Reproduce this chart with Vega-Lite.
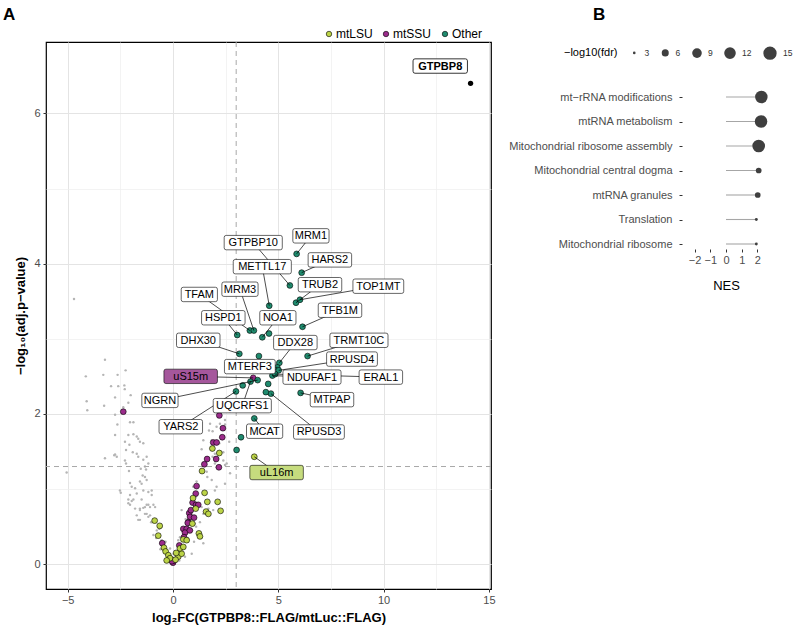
{
  "$schema": "https://vega.github.io/schema/vega-lite/v6.json",
  "padding": {"left": 2, "top": 4, "right": 5, "bottom": 5},
  "background": "white",
  "spacing": 12,
  "config": {
    "font": "Liberation Sans",
    "view": {"stroke": null},
    "axis": {"labelFontSize": 11, "labelColor": "#4d4d4d", "tickColor": "#333333", "tickSize": 3, "domain": false, "titleColor": "black", "labelFont": "Liberation Sans", "titleFont": "Liberation Sans"},
    "legend": {"labelFont": "Liberation Sans", "titleFont": "Liberation Sans"},
    "title": {"font": "Liberation Sans"}
  },
  "datasets": {
    "grey": [
      {"x": -4.70, "y": 3.53}, {"x": -3.23, "y": 2.72}, {"x": -4.14, "y": 2.50}, {"x": -3.31, "y": 2.52}, {"x": -2.63, "y": 2.52}, {"x": -2.25, "y": 2.58}, {"x": -2.94, "y": 2.37}, {"x": -2.60, "y": 2.37}, {"x": -2.31, "y": 2.38}, {"x": -2.29, "y": 2.33}, {"x": -2.01, "y": 2.25}, {"x": -2.75, "y": 2.22}, {"x": -4.10, "y": 2.17}, {"x": -3.27, "y": 2.11}, {"x": -2.12, "y": 2.15}, {"x": -4.07, "y": 2.05}, {"x": -2.36, "y": 2.09}, {"x": -2.75, "y": 1.99},
      {"x": -2.64, "y": 1.86}, {"x": -2.04, "y": 1.89}, {"x": -1.88, "y": 1.89}, {"x": -2.75, "y": 1.72}, {"x": -2.28, "y": 1.63}, {"x": -2.12, "y": 1.72}, {"x": -1.88, "y": 1.73}, {"x": -1.72, "y": 1.70}, {"x": -1.65, "y": 1.67}, {"x": -1.57, "y": 1.63}, {"x": -1.41, "y": 1.61}, {"x": -2.07, "y": 1.59}, {"x": -2.23, "y": 1.52}, {"x": -1.91, "y": 1.49}, {"x": -2.75, "y": 1.46}, {"x": -2.67, "y": 1.43}, {"x": -3.23, "y": 1.41}, {"x": -2.28, "y": 1.38}, {"x": -1.72, "y": 1.47}, {"x": -1.65, "y": 1.43}, {"x": -2.23, "y": 1.34}, {"x": -1.17, "y": 1.34}, {"x": -1.28, "y": 1.26}, {"x": -2.09, "y": 1.24}, {"x": -1.53, "y": 1.27}, {"x": -1.44, "y": 1.18}, {"x": -1.33, "y": 1.16}, {"x": -1.25, "y": 1.12}, {"x": -1.57, "y": 1.10}, {"x": -1.49, "y": 1.07}, {"x": -2.04, "y": 1.08}, {"x": -1.96, "y": 1.03}, {"x": -1.80, "y": 1.01}, {"x": -1.72, "y": 0.94}, {"x": -2.48, "y": 0.95}, {"x": -1.41, "y": 0.98}, {"x": -1.17, "y": 0.96}, {"x": -1.01, "y": 0.98}, {"x": -2.12, "y": 0.86}, {"x": -1.96, "y": 0.84}, {"x": -2.04, "y": 0.79}, {"x": -1.25, "y": 0.79}, {"x": -1.09, "y": 0.76}, {"x": -0.93, "y": 0.79}, {"x": -0.85, "y": 0.76}, {"x": -1.57, "y": 0.74}, {"x": -1.41, "y": 0.75},
      {"x": -5.05, "y": 1.22}, {"x": -2.79, "y": 1.45}, {"x": -2.52, "y": 0.98}, {"x": -1.57, "y": 0.59}, {"x": -1.25, "y": 0.67}, {"x": -1.09, "y": 0.65}, {"x": -1.04, "y": 0.56}, {"x": -1.41, "y": 1.39}, {"x": -1.25, "y": 1.43}, {"x": -1.33, "y": 1.30},
      {"x": 1.36, "y": 1.53}, {"x": 2.39, "y": 1.49}, {"x": 2.71, "y": 2.03}, {"x": 2.47, "y": 1.92}, {"x": 2.15, "y": 2.03}, {"x": 2.55, "y": 1.34}, {"x": 2.71, "y": 1.21}, {"x": 1.36, "y": 0.76}, {"x": 1.44, "y": 0.67},
      {"x": 2.23, "y": 1.87}, {"x": 2.47, "y": 1.86}, {"x": 1.88, "y": 1.77}, {"x": 2.20, "y": 1.61}, {"x": 2.67, "y": 1.63}, {"x": 1.88, "y": 1.43}, {"x": 1.99, "y": 1.34}, {"x": 2.07, "y": 1.29}, {"x": 2.47, "y": 1.32}, {"x": 1.63, "y": 1.16}, {"x": 1.12, "y": 1.10}, {"x": 0.96, "y": 1.03}, {"x": 1.99, "y": 0.98}, {"x": 1.09, "y": 0.90},
      {"x": 1.76, "y": 1.87}, {"x": 1.71, "y": 1.78}, {"x": 2.07, "y": 1.83}, {"x": 1.84, "y": 1.65}, {"x": 1.44, "y": 1.65}, {"x": 2.28, "y": 1.69}, {"x": 1.99, "y": 1.47}, {"x": 2.39, "y": 1.38}, {"x": 1.60, "y": 1.23}, {"x": 1.84, "y": 1.12}, {"x": 2.07, "y": 1.03}, {"x": 2.47, "y": 1.07},
      {"x": -1.88, "y": 0.86}, {"x": -1.49, "y": 0.86}, {"x": -2.04, "y": 0.92}, {"x": -2.12, "y": 0.81}, {"x": -1.80, "y": 0.74}, {"x": -1.57, "y": 0.72}, {"x": -1.33, "y": 0.76}, {"x": -1.17, "y": 0.79}, {"x": -1.01, "y": 0.92}, {"x": -1.72, "y": 0.65}, {"x": -1.65, "y": 0.59}, {"x": -1.33, "y": 0.67}, {"x": -1.17, "y": 0.63}, {"x": -1.01, "y": 0.56}, {"x": -0.77, "y": 0.45}, {"x": -0.65, "y": 0.47}, {"x": -0.93, "y": 0.39}, {"x": -0.54, "y": 0.32}, {"x": -0.46, "y": 0.25}, {"x": -0.14, "y": 0.21}, {"x": 0.02, "y": 0.14}, {"x": 0.25, "y": 0.32}, {"x": 0.33, "y": 0.36}, {"x": 1.68, "y": 0.74}, {"x": 1.91, "y": 0.72}, {"x": 1.36, "y": 0.36}, {"x": 1.44, "y": 0.28}, {"x": 0.89, "y": 0.14}, {"x": 0.57, "y": 0.10}, {"x": -0.30, "y": 0.12}, {"x": 0.73, "y": 0.63}, {"x": 0.81, "y": 0.56}, {"x": 1.04, "y": 0.54}, {"x": 0.41, "y": 0.72}, {"x": 1.28, "y": 0.56},
      {"x": -0.20, "y": 0.05}, {"x": 0.10, "y": 0.03}, {"x": 0.20, "y": 0.08}, {"x": -0.10, "y": 0.10}, {"x": 0.45, "y": 0.20}, {"x": 0.70, "y": 0.35}, {"x": 0.90, "y": 0.45}, {"x": -0.60, "y": 0.20}, {"x": -0.80, "y": 0.35}, {"x": -0.35, "y": 0.30}, {"x": 0.60, "y": 0.60}, {"x": 1.10, "y": 0.50}, {"x": 1.00, "y": 0.30}, {"x": 0.30, "y": 0.05}
    ],
    "colored": [
      {"x": -2.36, "y": 2.03, "group": "mtSSU"}, {"x": 3.81, "y": 2.48, "group": "mtSSU"}, {"x": 2.20, "y": 1.98, "group": "mtSSU"}, {"x": 2.37, "y": 1.81, "group": "mtSSU"}, {"x": 2.34, "y": 1.69, "group": "mtSSU"}, {"x": 1.91, "y": 1.62, "group": "mtSSU"}, {"x": 2.07, "y": 1.62, "group": "mtSSU"}, {"x": 1.62, "y": 1.40, "group": "mtSSU"}, {"x": 2.05, "y": 1.40, "group": "mtSSU"}, {"x": 1.49, "y": 1.33, "group": "mtSSU"}, {"x": 2.18, "y": 1.29, "group": "mtSSU"}, {"x": 1.12, "y": 1.04, "group": "mtSSU"}, {"x": 1.08, "y": 0.94, "group": "mtSSU"}, {"x": 0.93, "y": 0.82, "group": "mtSSU"}, {"x": 1.09, "y": 0.79, "group": "mtSSU"}, {"x": 1.20, "y": 0.79, "group": "mtSSU"}, {"x": 0.77, "y": 0.68, "group": "mtSSU"}, {"x": 0.81, "y": 0.63, "group": "mtSSU"}, {"x": 1.00, "y": 0.62, "group": "mtSSU"}, {"x": 0.73, "y": 0.56, "group": "mtSSU"}, {"x": 0.49, "y": 0.47, "group": "mtSSU"}, {"x": 0.65, "y": 0.47, "group": "mtSSU"}, {"x": 0.57, "y": 0.42, "group": "mtSSU"}, {"x": 0.52, "y": 0.36, "group": "mtSSU"}, {"x": 0.80, "y": 0.45, "group": "mtSSU"}, {"x": 0.70, "y": 0.55, "group": "mtSSU"}, {"x": -0.51, "y": 0.28, "group": "mtSSU"}, {"x": 0.0, "y": 0.02, "group": "mtSSU"}, {"x": 0.05, "y": 0.05, "group": "mtSSU"}, {"x": -0.05, "y": 0.04, "group": "mtSSU"}, {"x": 0.30, "y": 0.25, "group": "mtSSU"}, {"x": 0.85, "y": 0.72, "group": "mtSSU"},
      {"x": 3.86, "y": 1.43, "group": "mtLSU"}, {"x": 1.87, "y": 1.54, "group": "mtLSU"}, {"x": 2.20, "y": 1.48, "group": "mtLSU"}, {"x": 1.38, "y": 1.24, "group": "mtLSU"}, {"x": 1.50, "y": 0.95, "group": "mtLSU"}, {"x": 1.63, "y": 0.83, "group": "mtLSU"}, {"x": 2.12, "y": 0.83, "group": "mtLSU"}, {"x": 2.26, "y": 0.71, "group": "mtLSU"}, {"x": 1.08, "y": 0.74, "group": "mtLSU"}, {"x": 0.92, "y": 0.54, "group": "mtLSU"}, {"x": 1.23, "y": 0.41, "group": "mtLSU"}, {"x": 1.28, "y": 0.37, "group": "mtLSU"}, {"x": 0.49, "y": 0.33, "group": "mtLSU"}, {"x": 0.65, "y": 0.32, "group": "mtLSU"}, {"x": -0.87, "y": 0.58, "group": "mtLSU"}, {"x": -0.63, "y": 0.51, "group": "mtLSU"}, {"x": -0.70, "y": 0.38, "group": "mtLSU"}, {"x": -0.43, "y": 0.22, "group": "mtLSU"}, {"x": -0.35, "y": 0.17, "group": "mtLSU"}, {"x": -0.22, "y": 0.12, "group": "mtLSU"}, {"x": -0.14, "y": 0.08, "group": "mtLSU"}, {"x": 0.25, "y": 0.10, "group": "mtLSU"}, {"x": 0.41, "y": 0.14, "group": "mtLSU"}, {"x": 0.33, "y": 0.21, "group": "mtLSU"}, {"x": 0.49, "y": 0.23, "group": "mtLSU"}, {"x": 1.57, "y": 0.70, "group": "mtLSU"}, {"x": 1.68, "y": 0.67, "group": "mtLSU"}, {"x": 0.95, "y": 0.88, "group": "mtLSU"}, {"x": -0.30, "y": 0.05, "group": "mtLSU"}, {"x": 0.12, "y": 0.06, "group": "mtLSU"}, {"x": 0.15, "y": 0.15, "group": "mtLSU"},
      {"x": 5.87, "y": 4.13, "group": "Other"}, {"x": 6.11, "y": 3.88, "group": "Other"}, {"x": 5.55, "y": 3.71, "group": "Other"}, {"x": 4.57, "y": 3.44, "group": "Other"}, {"x": 5.84, "y": 3.48, "group": "Other"}, {"x": 6.03, "y": 3.52, "group": "Other"}, {"x": 6.15, "y": 3.16, "group": "Other"}, {"x": 3.65, "y": 3.11, "group": "Other"}, {"x": 3.84, "y": 3.11, "group": "Other"}, {"x": 3.05, "y": 3.05, "group": "Other"}, {"x": 4.24, "y": 3.02, "group": "Other"}, {"x": 4.56, "y": 3.07, "group": "Other"}, {"x": 3.15, "y": 2.80, "group": "Other"}, {"x": 4.08, "y": 2.77, "group": "Other"}, {"x": 5.05, "y": 2.68, "group": "Other"}, {"x": 6.39, "y": 2.77, "group": "Other"}, {"x": 4.95, "y": 2.62, "group": "Other"}, {"x": 5.02, "y": 2.58, "group": "Other"}, {"x": 4.72, "y": 2.51, "group": "Other"}, {"x": 4.85, "y": 2.53, "group": "Other"}, {"x": 4.02, "y": 2.45, "group": "Other"}, {"x": 3.31, "y": 2.38, "group": "Other"}, {"x": 3.68, "y": 2.43, "group": "Other"}, {"x": 2.99, "y": 2.30, "group": "Other"}, {"x": 4.52, "y": 2.40, "group": "Other"}, {"x": 4.65, "y": 2.27, "group": "Other"}, {"x": 4.41, "y": 2.29, "group": "Other"}, {"x": 6.06, "y": 2.28, "group": "Other"}, {"x": 3.86, "y": 1.94, "group": "Other"}, {"x": 3.23, "y": 1.69, "group": "Other"}, {"x": 3.02, "y": 1.52, "group": "Other"}
    ],
    "labels": [
      {"gene": "MRM1", "x": 5.87, "y": 4.13, "lx": 6.55, "ly": 4.37, "group": "Other"},
      {"gene": "GTPBP10", "x": 5.55, "y": 3.71, "lx": 3.81, "ly": 4.28, "group": "Other"},
      {"gene": "HARS2", "x": 6.11, "y": 3.88, "lx": 7.45, "ly": 4.05, "group": "Other"},
      {"gene": "METTL17", "x": 4.57, "y": 3.44, "lx": 4.24, "ly": 3.96, "group": "Other"},
      {"gene": "TRUB2", "x": 5.84, "y": 3.48, "lx": 6.98, "ly": 3.72, "group": "Other"},
      {"gene": "TOP1MT", "x": 6.03, "y": 3.52, "lx": 9.75, "ly": 3.70, "group": "Other"},
      {"gene": "TFAM", "x": 3.65, "y": 3.11, "lx": 1.25, "ly": 3.59, "group": "Other"},
      {"gene": "MRM3", "x": 3.84, "y": 3.11, "lx": 3.18, "ly": 3.66, "group": "Other"},
      {"gene": "TFB1M", "x": 6.15, "y": 3.16, "lx": 7.93, "ly": 3.38, "group": "Other"},
      {"gene": "HSPD1", "x": 3.05, "y": 3.05, "lx": 2.39, "ly": 3.28, "group": "Other"},
      {"gene": "NOA1", "x": 4.24, "y": 3.02, "lx": 4.98, "ly": 3.28, "group": "Other"},
      {"gene": "DHX30", "x": 3.15, "y": 2.80, "lx": 1.20, "ly": 2.98, "group": "Other"},
      {"gene": "DDX28", "x": 5.05, "y": 2.68, "lx": 5.81, "ly": 2.95, "group": "Other"},
      {"gene": "TRMT10C", "x": 6.39, "y": 2.77, "lx": 8.83, "ly": 2.98, "group": "Other"},
      {"gene": "MTERF3", "x": 4.95, "y": 2.62, "lx": 3.65, "ly": 2.63, "group": "Other"},
      {"gene": "RPUSD4", "x": 5.02, "y": 2.58, "lx": 8.50, "ly": 2.73, "group": "Other"},
      {"gene": "NDUFAF1", "x": 4.72, "y": 2.51, "lx": 6.60, "ly": 2.49, "group": "Other"},
      {"gene": "ERAL1", "x": 4.85, "y": 2.53, "lx": 9.87, "ly": 2.49, "group": "Other"},
      {"gene": "uS15m", "x": 3.81, "y": 2.48, "lx": 0.84, "ly": 2.50, "group": "mtSSU"},
      {"gene": "NGRN", "x": 4.02, "y": 2.45, "lx": -0.62, "ly": 2.18, "group": "Other"},
      {"gene": "UQCRFS1", "x": 3.68, "y": 2.43, "lx": 3.29, "ly": 2.11, "group": "Other"},
      {"gene": "YARS2", "x": 2.99, "y": 2.30, "lx": 0.37, "ly": 1.83, "group": "Other"},
      {"gene": "MTPAP", "x": 6.06, "y": 2.28, "lx": 7.55, "ly": 2.19, "group": "Other"},
      {"gene": "RPUSD3", "x": 4.65, "y": 2.27, "lx": 6.93, "ly": 1.76, "group": "Other"},
      {"gene": "MCAT", "x": 3.86, "y": 1.94, "lx": 4.35, "ly": 1.77, "group": "Other"},
      {"gene": "uL16m", "x": 3.86, "y": 1.43, "lx": 4.92, "ly": 1.22, "group": "mtLSU"}
    ],
    "bait": [
      {"gene": "GTPBP8", "x": 14.13, "y": 6.40, "lx": 12.69, "ly": 6.63}
    ],
    "nes": [
      {"term": "mt−rRNA modifications", "NES": 2.25, "fdr": 13.5},
      {"term": "mtRNA metabolism", "NES": 2.23, "fdr": 13.5},
      {"term": "Mitochondrial ribosome assembly", "NES": 2.08, "fdr": 13.8},
      {"term": "Mitochondrial central dogma", "NES": 2.08, "fdr": 4.8},
      {"term": "mtRNA granules", "NES": 2.02, "fdr": 4.8},
      {"term": "Translation", "NES": 1.93, "fdr": 3.1},
      {"term": "Mitochondrial ribosome", "NES": 1.93, "fdr": 3.1}
    ]
  },
  "hconcat": [
    {
      "width": 445,
      "height": 547,
      "view": {"stroke": "black", "strokeWidth": 1.2},
      "title": {"text": "A", "anchor": "start", "frame": "bounds", "fontSize": 17, "fontWeight": "bold", "offset": 18, "dx": -12},
      "layer": [
        {
          "data": {"name": "grey"},
          "mark": {"type": "circle", "size": 6, "color": "#b5b5b5", "opacity": 1},
          "encoding": {
            "x": {"field": "x", "type": "quantitative", "scale": {"domain": [-6.03, 15.1], "nice": false, "zero": false},
              "axis": {"orient": "bottom", "values": [-5, 0, 5, 10, 15], "title": "log₂FC(GTPBP8::FLAG/mtLuc::FLAG)", "titleFontSize": 13, "titleFontWeight": "bold", "gridColor": "#e4e4e4", "gridWidth": 1, "labelPadding": 2, "titlePadding": 6}},
            "y": {"field": "y", "type": "quantitative", "scale": {"domain": [-0.33, 6.95], "nice": false, "zero": false},
              "axis": {"orient": "left", "values": [0, 2, 4, 6], "title": "−log₁₀(adj.p−value)", "titleFontSize": 13, "titleFontWeight": "bold", "gridColor": "#e4e4e4", "gridWidth": 1, "labelPadding": 3, "titlePadding": 6}}
          }
        },
        {
          "data": {"name": "bait"},
          "mark": {"type": "rule", "color": "#a8a8a8", "strokeDash": [5, 4], "strokeWidth": 1},
          "encoding": {
            "x": {"datum": 3, "type": "quantitative", "scale": {"domain": [-6.03, 15.1], "nice": false, "zero": false},
              "axis": {"orient": "top", "values": [-2.5, 2.5, 7.5, 12.5], "grid": true, "gridColor": "#eeeeee", "gridWidth": 0.7, "labels": false, "ticks": false, "domain": false, "title": null}}
          }
        },
        {
          "data": {"name": "bait"},
          "mark": {"type": "rule", "color": "#a8a8a8", "strokeDash": [5, 4], "strokeWidth": 1},
          "encoding": {
            "y": {"datum": 1.3, "type": "quantitative", "scale": {"domain": [-0.33, 6.95], "nice": false, "zero": false},
              "axis": {"orient": "right", "values": [1, 3, 5], "grid": true, "gridColor": "#eeeeee", "gridWidth": 0.7, "labels": false, "ticks": false, "domain": false, "title": null}}
          }
        },
        {
          "data": {"name": "colored"},
          "mark": {"type": "point", "filled": true, "size": 34, "stroke": "black", "strokeWidth": 0.6, "opacity": 1},
          "encoding": {
            "x": {"field": "x", "type": "quantitative", "scale": {"domain": [-6.03, 15.1], "nice": false, "zero": false}, "axis": null},
            "y": {"field": "y", "type": "quantitative", "scale": {"domain": [-0.33, 6.95], "nice": false, "zero": false}, "axis": null},
            "fill": {"field": "group", "type": "nominal",
              "scale": {"domain": ["mtLSU", "mtSSU", "Other"], "range": ["#bcd447", "#9b2c8b", "#1f8b6e"]},
              "legend": {"orient": "none", "legendX": 277, "legendY": -14, "direction": "horizontal", "title": null, "labelFontSize": 12, "labelColor": "black", "symbolType": "circle", "symbolSize": 30, "symbolStrokeColor": "black", "symbolStrokeWidth": 0.6, "columnPadding": 7, "labelOffset": 1}}
          }
        },
        {
          "data": {"name": "bait"},
          "mark": {"type": "circle", "size": 28, "color": "black", "opacity": 1},
          "encoding": {
            "x": {"field": "x", "type": "quantitative", "scale": {"domain": [-6.03, 15.1], "nice": false, "zero": false}, "axis": null},
            "y": {"field": "y", "type": "quantitative", "scale": {"domain": [-0.33, 6.95], "nice": false, "zero": false}, "axis": null}
          }
        },
        {
          "data": {"name": "labels"},
          "mark": {"type": "rule", "color": "black", "strokeWidth": 0.7},
          "encoding": {
            "x": {"field": "lx", "type": "quantitative", "scale": {"domain": [-6.03, 15.1], "nice": false, "zero": false}, "axis": null},
            "y": {"field": "ly", "type": "quantitative", "scale": {"domain": [-0.33, 6.95], "nice": false, "zero": false}, "axis": null},
            "x2": {"field": "x"},
            "y2": {"field": "y"}
          }
        },
        {
          "data": {"name": "labels"},
          "transform": [{"filter": "datum.group === 'Other'"}],
          "mark": {"type": "point", "filled": true, "fill": "white", "stroke": "black", "strokeWidth": 0.6, "opacity": 1, "size": 4,
            "shape": {"expr": "'M'+(-(length(datum.gene)*3.65+3.5)+2)+',-7.2H'+((length(datum.gene)*3.65+3.5)-2)+'Q'+(length(datum.gene)*3.65+3.5)+',-7.2,'+(length(datum.gene)*3.65+3.5)+',-5.2V5.2Q'+(length(datum.gene)*3.65+3.5)+',7.2,'+((length(datum.gene)*3.65+3.5)-2)+',7.2H'+(-(length(datum.gene)*3.65+3.5)+2)+'Q'+(-(length(datum.gene)*3.65+3.5))+',7.2,'+(-(length(datum.gene)*3.65+3.5))+',5.2V-5.2Q'+(-(length(datum.gene)*3.65+3.5))+',-7.2,'+(-(length(datum.gene)*3.65+3.5)+2)+',-7.2Z'"}},
          "encoding": {
            "x": {"field": "lx", "type": "quantitative", "scale": {"domain": [-6.03, 15.1], "nice": false, "zero": false}, "axis": null},
            "y": {"field": "ly", "type": "quantitative", "scale": {"domain": [-0.33, 6.95], "nice": false, "zero": false}, "axis": null}
          }
        },
        {
          "data": {"name": "labels"},
          "transform": [{"filter": "datum.gene === 'uS15m'"}],
          "mark": {"type": "point", "filled": true, "fill": "#a5579c", "stroke": "black", "strokeWidth": 0.6, "opacity": 1, "size": 4,
            "shape": {"expr": "'M'+(-(length(datum.gene)*3.65+8.5)+2)+',-7.2H'+((length(datum.gene)*3.65+8.5)-2)+'Q'+(length(datum.gene)*3.65+8.5)+',-7.2,'+(length(datum.gene)*3.65+8.5)+',-5.2V5.2Q'+(length(datum.gene)*3.65+8.5)+',7.2,'+((length(datum.gene)*3.65+8.5)-2)+',7.2H'+(-(length(datum.gene)*3.65+8.5)+2)+'Q'+(-(length(datum.gene)*3.65+8.5))+',7.2,'+(-(length(datum.gene)*3.65+8.5))+',5.2V-5.2Q'+(-(length(datum.gene)*3.65+8.5))+',-7.2,'+(-(length(datum.gene)*3.65+8.5)+2)+',-7.2Z'"}},
          "encoding": {
            "x": {"field": "lx", "type": "quantitative", "scale": {"domain": [-6.03, 15.1], "nice": false, "zero": false}, "axis": null},
            "y": {"field": "ly", "type": "quantitative", "scale": {"domain": [-0.33, 6.95], "nice": false, "zero": false}, "axis": null}
          }
        },
        {
          "data": {"name": "labels"},
          "transform": [{"filter": "datum.gene === 'uL16m'"}],
          "mark": {"type": "point", "filled": true, "fill": "#c6dc7e", "stroke": "black", "strokeWidth": 0.6, "opacity": 1, "size": 4,
            "shape": {"expr": "'M'+(-(length(datum.gene)*3.65+8.5)+2)+',-7.2H'+((length(datum.gene)*3.65+8.5)-2)+'Q'+(length(datum.gene)*3.65+8.5)+',-7.2,'+(length(datum.gene)*3.65+8.5)+',-5.2V5.2Q'+(length(datum.gene)*3.65+8.5)+',7.2,'+((length(datum.gene)*3.65+8.5)-2)+',7.2H'+(-(length(datum.gene)*3.65+8.5)+2)+'Q'+(-(length(datum.gene)*3.65+8.5))+',7.2,'+(-(length(datum.gene)*3.65+8.5))+',5.2V-5.2Q'+(-(length(datum.gene)*3.65+8.5))+',-7.2,'+(-(length(datum.gene)*3.65+8.5)+2)+',-7.2Z'"}},
          "encoding": {
            "x": {"field": "lx", "type": "quantitative", "scale": {"domain": [-6.03, 15.1], "nice": false, "zero": false}, "axis": null},
            "y": {"field": "ly", "type": "quantitative", "scale": {"domain": [-0.33, 6.95], "nice": false, "zero": false}, "axis": null}
          }
        },
        {
          "data": {"name": "labels"},
          "mark": {"type": "text", "fontSize": 11, "align": "center", "baseline": "middle", "color": "black", "dy": 0.5},
          "encoding": {
            "x": {"field": "lx", "type": "quantitative", "scale": {"domain": [-6.03, 15.1], "nice": false, "zero": false}, "axis": null},
            "y": {"field": "ly", "type": "quantitative", "scale": {"domain": [-0.33, 6.95], "nice": false, "zero": false}, "axis": null},
            "text": {"field": "gene"}
          }
        },
        {
          "data": {"name": "bait"},
          "mark": {"type": "point", "filled": true, "fill": "white", "stroke": "black", "strokeWidth": 0.8, "opacity": 1, "size": 4,
            "shape": {"expr": "'M'+(-(length(datum.gene)*3.95+3.5)+2)+',-7.2H'+((length(datum.gene)*3.95+3.5)-2)+'Q'+(length(datum.gene)*3.95+3.5)+',-7.2,'+(length(datum.gene)*3.95+3.5)+',-5.2V5.2Q'+(length(datum.gene)*3.95+3.5)+',7.2,'+((length(datum.gene)*3.95+3.5)-2)+',7.2H'+(-(length(datum.gene)*3.95+3.5)+2)+'Q'+(-(length(datum.gene)*3.95+3.5))+',7.2,'+(-(length(datum.gene)*3.95+3.5))+',5.2V-5.2Q'+(-(length(datum.gene)*3.95+3.5))+',-7.2,'+(-(length(datum.gene)*3.95+3.5)+2)+',-7.2Z'"}},
          "encoding": {
            "x": {"field": "lx", "type": "quantitative", "scale": {"domain": [-6.03, 15.1], "nice": false, "zero": false}, "axis": null},
            "y": {"field": "ly", "type": "quantitative", "scale": {"domain": [-0.33, 6.95], "nice": false, "zero": false}, "axis": null}
          }
        },
        {
          "data": {"name": "bait"},
          "mark": {"type": "text", "fontSize": 11, "fontWeight": "bold", "align": "center", "baseline": "middle", "color": "black", "dy": 0.5},
          "encoding": {
            "x": {"field": "lx", "type": "quantitative", "scale": {"domain": [-6.03, 15.1], "nice": false, "zero": false}, "axis": null},
            "y": {"field": "ly", "type": "quantitative", "scale": {"domain": [-0.33, 6.95], "nice": false, "zero": false}, "axis": null},
            "text": {"field": "gene"}
          }
        }
      ]
    },
    {
      "width": 88,
      "height": 207,
      "title": {"text": "B", "anchor": "start", "frame": "group", "fontSize": 17, "fontWeight": "bold", "offset": 18, "dx": -89},
      "data": {"name": "nes"},
      "encoding": {
        "y": {"field": "term", "type": "nominal", "sort": null, "scale": {"type": "point", "range": [55, 202], "padding": 0},
          "axis": {"title": null, "labelFontSize": 11, "labelColor": "#4d4d4d", "labelPadding": 7, "tickSize": 3, "domain": false, "grid": false}},
        "x": {"field": "NES", "type": "quantitative", "scale": {"domain": [-2.8, 2.8], "nice": false, "zero": false},
          "axis": {"values": [-2, -1, 0, 1, 2], "title": "NES", "titleFontSize": 13, "titleFontWeight": "normal", "titlePadding": 14, "labelPadding": 2, "tickSize": 3, "domain": false, "grid": false}}
      },
      "layer": [
        {
          "mark": {"type": "rule", "color": "#a6a6a6", "strokeWidth": 1.1},
          "encoding": {"x2": {"datum": 0}}
        },
        {
          "mark": {"type": "circle", "color": "#3f3f3f", "opacity": 1},
          "encoding": {
            "size": {"field": "fdr", "type": "quantitative", "scale": {"domain": [3, 15], "range": [7, 177]},
              "legend": {"orient": "none", "legendX": 518, "legendY": 4, "direction": "horizontal", "title": "−log10(fdr)", "titleOrient": "left", "values": [3, 6, 9, 12, 15], "titleFontSize": 11, "titleFontWeight": "normal", "titleColor": "black", "titlePadding": 12, "labelFontSize": 8.5, "labelColor": "#333333", "columnPadding": 11, "labelOffset": 6, "symbolFillColor": "#3f3f3f", "symbolStrokeWidth": 0, "symbolOpacity": 1}}
          }
        }
      ]
    }
  ]
}
